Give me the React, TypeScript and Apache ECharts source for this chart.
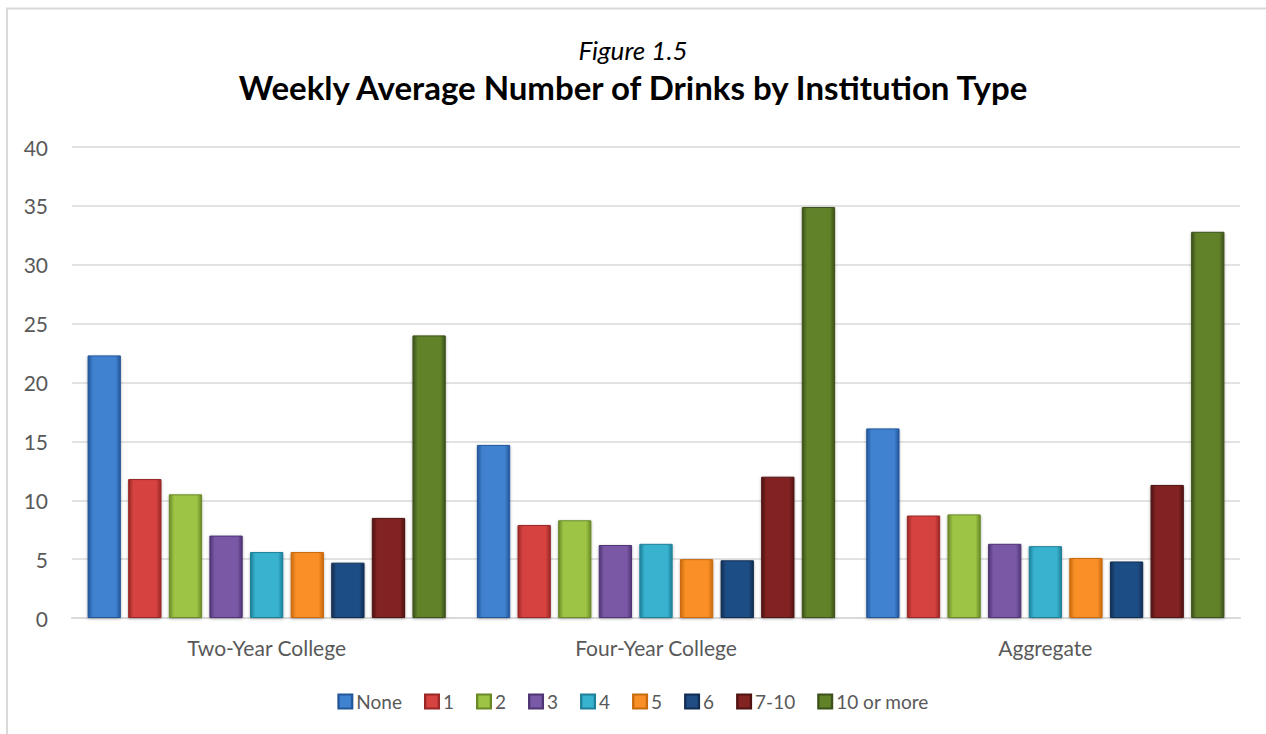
import React, { useEffect, useRef } from "react";
import * as echarts from "echarts";

const categories = ["Two-Year College", "Four-Year College", "Aggregate"];
const seriesNames = ["None", "1", "2", "3", "4", "5", "6", "7-10", "10 or more"];
const valuesNone = [22.3, 14.7, 16.1];
const values1 = [11.8, 7.9, 8.7];
const values2 = [10.5, 8.3, 8.8];
const values3 = [7.0, 6.2, 6.3];
const values4 = [5.6, 6.3, 6.1];
const values5 = [5.6, 5.0, 5.1];
const values6 = [4.7, 4.9, 4.8];
const values7to10 = [8.5, 12.0, 11.3];
const values10plus = [24.0, 34.9, 32.8];
const yTicks = [0, 5, 10, 15, 20, 25, 30, 35, 40];

const allValues = [valuesNone, values1, values2, values3, values4, values5, values6, values7to10, values10plus];
const baseColors = [
  ["#24569a", "#3f82d0"],
  ["#992726", "#d64341"],
  ["#6a8a28", "#9dc445"],
  ["#4f3475", "#7a59a6"],
  ["#1f8099", "#37b2cf"],
  ["#c86a0e", "#f98f27"],
  ["#112e52", "#1f4d84"],
  ["#4f1312", "#832322"],
  ["#3c511a", "#62822a"],
];

const FONT = "Lato, 'Open Sans', sans-serif";

export default function App() {
  const ref = useRef<HTMLDivElement>(null);
  useEffect(() => {
    if (!ref.current) return;
    const chart = echarts.init(ref.current, null, { renderer: "svg" });
    const series = seriesNames.map((name, i) => ({
      name,
      type: "bar",
      data: allValues[i],
      barGap: "22%",
      barCategoryGap: "8%",
      itemStyle: {
        color: new echarts.graphic.LinearGradient(0, 0, 1, 0, [
          { offset: 0, color: baseColors[i][0] },
          { offset: 0.15, color: baseColors[i][1] },
          { offset: 0.85, color: baseColors[i][1] },
          { offset: 1, color: baseColors[i][0] },
        ]),
        borderColor: baseColors[i][0],
        borderWidth: 1,
        shadowColor: "rgba(0,0,0,0.3)",
        shadowBlur: 3,
        shadowOffsetY: 1,
      },
    }));
    chart.setOption({
      animation: false,
      backgroundColor: "#ffffff",
      textStyle: { fontFamily: FONT },
      graphic: [
        {
          type: "rect",
          shape: { x: 7, y: 8.5, width: 1400, height: 900 },
          style: { fill: "none", stroke: "#d9d9d9", lineWidth: 2 },
          silent: true,
        },
        {
          type: "text",
          x: 633,
          y: 50,
          style: {
            text: "Figure 1.5",
            fontFamily: FONT,
            fontStyle: "italic",
            fontSize: 26,
            fill: "#000000",
            align: "center",
            verticalAlign: "middle",
          },
        },
        {
          type: "text",
          x: 633,
          y: 87,
          style: {
            text: "Weekly Average Number of Drinks by Institution Type",
            fontFamily: FONT,
            fontWeight: "bold",
            fontSize: 33,
            fill: "#000000",
            align: "center",
            verticalAlign: "middle",
          },
        },
      ],
      legend: {
        data: seriesNames,
        bottom: 18,
        left: "center",
        itemWidth: 14,
        itemHeight: 14,
        itemGap: 22,
        icon: "rect",
        textStyle: { color: "#595959", fontSize: 19, fontFamily: FONT, padding: [0, 0, 0, -1] },
      },
      grid: { left: 72, right: 26, top: 147, bottom: 116 },
      xAxis: {
        type: "category",
        data: categories,
        axisLine: { lineStyle: { color: "#d9d9d9", width: 2 } },
        axisTick: { show: false },
        axisLabel: { color: "#595959", fontSize: 21, margin: 19, fontFamily: FONT },
      },
      yAxis: {
        type: "value",
        min: yTicks[0],
        max: yTicks[yTicks.length - 1],
        interval: 5,
        axisLine: { show: false },
        axisTick: { show: false },
        axisLabel: { color: "#595959", fontSize: 21, margin: 24, fontFamily: FONT },
        splitLine: { lineStyle: { color: "#d9d9d9", width: 1.5 } },
      },
      series,
    });
    return () => chart.dispose();
  }, []);
  return (
    <div
      ref={ref}
      style={{ position: "absolute", left: 0, top: 0, width: 1266, height: 734 }}
    />
  );
}
